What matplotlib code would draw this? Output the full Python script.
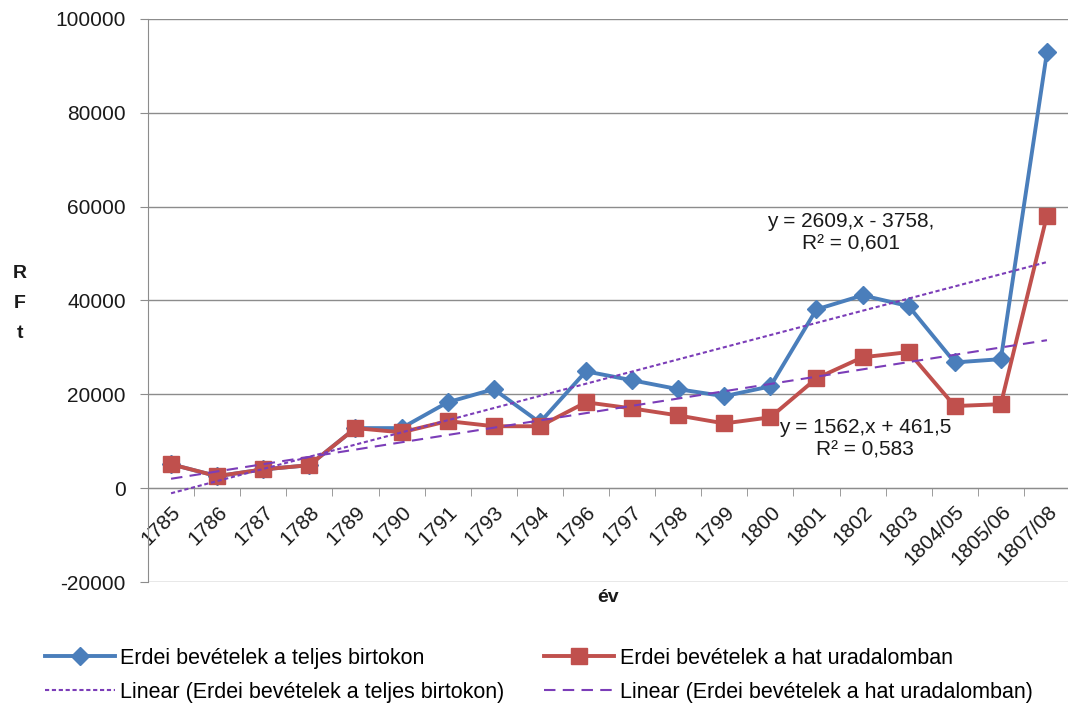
import numpy as np
import matplotlib
matplotlib.use("Agg")
import matplotlib.pyplot as plt
from matplotlib.ticker import FixedLocator, MultipleLocator

plt.rcParams['font.family'] = ['Liberation Sans', 'DejaVu Sans']
plt.rcParams['axes.unicode_minus'] = False

categories = ["1785", "1786", "1787", "1788", "1789", "1790", "1791", "1793", "1794",
              "1796", "1797", "1798", "1799", "1800", "1801", "1802", "1803",
              "1804/05", "1805/06", "1807/08"]
teljes = [5100, 2560, 4000, 4900, 12800, 12800, 18300, 21100, 14000, 24900,
          23000, 21100, 19600, 21700, 38100, 41100, 38800, 26800, 27500, 92900]
hat = [5100, 2560, 4000, 4900, 12800, 11900, 14300, 13200, 13200, 18300,
       17000, 15500, 13800, 15100, 23400, 27900, 29000, 17500, 17900, 58100]
label_teljes = "Erdei bevételek a teljes birtokon"
label_hat = "Erdei bevételek a hat uradalomban"
eq_teljes = "y = 2609,x - 3758,\nR² = 0,601"
eq_hat = "y = 1562,x + 461,5\nR² = 0,583"

BLUE = "#4A7EBB"
RED = "#C0504D"
PURPLE = "#7B3DB8"
GRID = "#8C8C8C"

fig = plt.figure(figsize=(10.68, 7.06), dpi=100)
ax = fig.add_axes([148 / 1068, 1 - 582 / 706, 922 / 1068, (582 - 19) / 706])

x = np.arange(len(categories))
xt = x + 1  # Excel trendline x = 1..n

l1, = ax.plot(x, teljes, color=BLUE, lw=2.8, marker='D', markersize=9,
              markerfacecolor=BLUE, markeredgecolor=BLUE, label=label_teljes, zorder=3)
l2, = ax.plot(x, hat, color=RED, lw=2.8, marker='s', markersize=12,
              markerfacecolor=RED, markeredgecolor=RED, label=label_hat, zorder=4)

p1 = np.polyfit(xt, teljes, 1)
p2 = np.polyfit(xt, hat, 1)
t1, = ax.plot(x, np.polyval(p1, xt), color=PURPLE, lw=1.5, dashes=(2.0, 1.3),
              label="Linear (" + label_teljes + ")", zorder=5)
t2, = ax.plot(x, np.polyval(p2, xt), color=PURPLE, lw=1.5, dashes=(5.5, 3.5),
              label="Linear (" + label_hat + ")", zorder=5)

ax.set_xlim(-0.5, len(categories) - 0.5)
ax.set_ylim(-20000, 100000)
ax.yaxis.set_major_locator(MultipleLocator(20000))
ax.yaxis.grid(True, color=GRID, lw=1.0)
ax.set_axisbelow(True)

for s in ['top', 'right']:
    ax.spines[s].set_visible(False)
ax.spines['left'].set_color(GRID)
ax.spines['bottom'].set_color(GRID)
ax.spines['bottom'].set_position(('data', 0))

ax.set_xticks(x)
ax.set_xticklabels(categories, rotation=45, ha='right', va='top', rotation_mode='anchor')
ax.xaxis.set_minor_locator(FixedLocator(x[:-1] + 0.5))
ax.tick_params(axis='x', which='major', length=0, pad=10, labelsize=15, labelcolor='#1a1a1a')
ax.tick_params(axis='x', which='minor', length=6, color=GRID, direction='out')
ax.tick_params(axis='y', length=6, color=GRID, pad=10, labelsize=15, labelcolor='#1a1a1a')

ax.text(14.75, 54470, eq_teljes, ha='center', va='center', fontsize=15,
        color='#1a1a1a', linespacing=1.2, zorder=6)
ax.text(15.05, 10550, eq_hat, ha='center', va='center', fontsize=15,
        color='#1a1a1a', linespacing=1.2, zorder=6)

fig.text(20 / 1068, 1 - 303 / 706, "R\nF\nt", ha='center', va='center',
         fontsize=14, fontweight='bold', linespacing=2.0, color='#1a1a1a')
fig.text(608 / 1068, 1 - 598 / 706, "év", ha='center', va='center',
         fontsize=14, fontweight='bold', color='#1a1a1a')

fig.legend(handles=[l1, t1, l2, t2], ncol=2, loc='upper left',
           bbox_to_anchor=(45 / 1068, 1 - 648 / 706), frameon=False,
           fontsize=15.5, handlelength=3.25, handletextpad=0.25,
           columnspacing=1.85, borderpad=0, borderaxespad=0, labelspacing=0.6)

fig.savefig("out.png", dpi=100)
